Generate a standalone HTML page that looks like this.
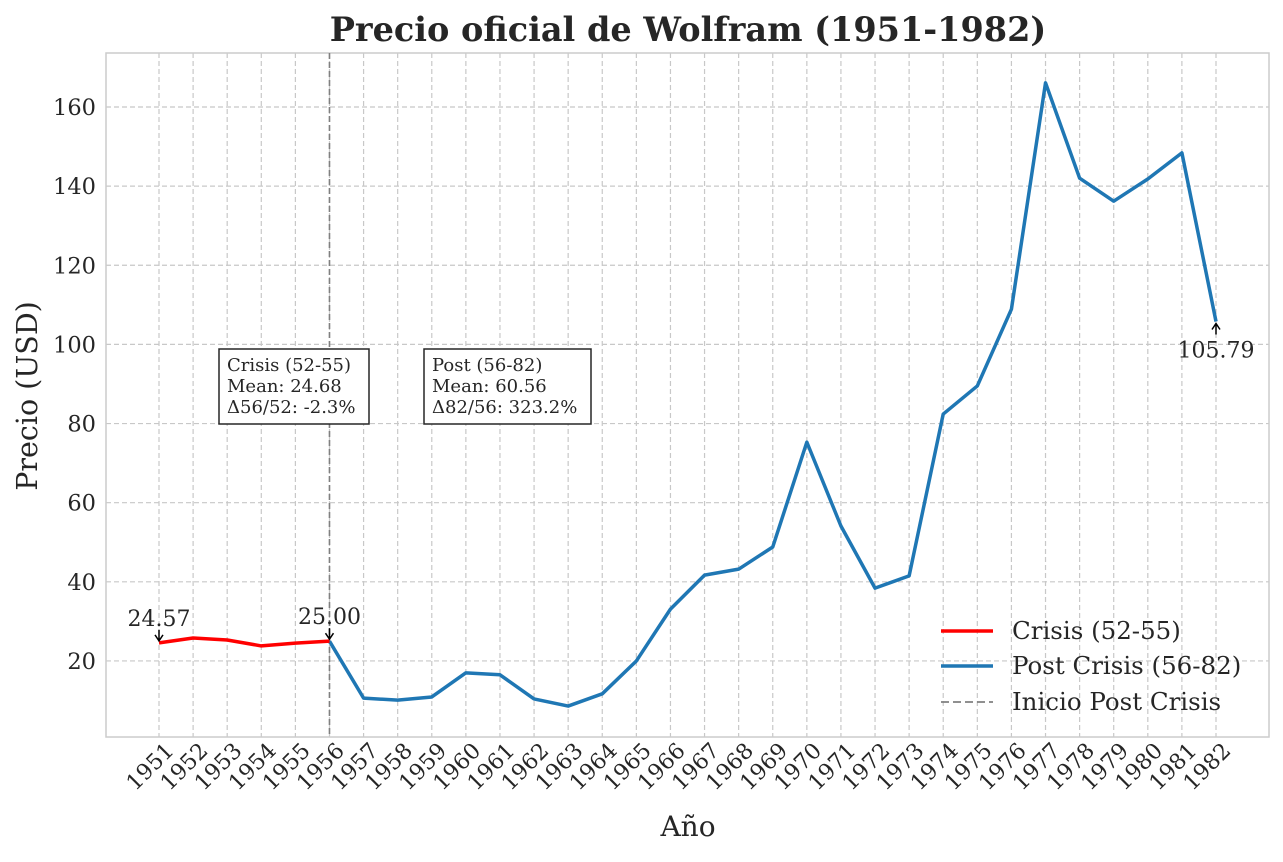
<!DOCTYPE html>
<html><head><meta charset="utf-8"><style>
body{margin:0;background:#fff;}
svg text{font-family:"DejaVu Serif","Liberation Serif",serif;fill:#262626;}
</style></head><body>
<svg id="chart" width="1283" height="857" xmlns="http://www.w3.org/2000/svg">
<text x="688" y="41" text-anchor="middle" font-size="33.5" font-weight="bold">Precio oficial de Wolfram (1951-1982)</text>
<g id="grid"></g>
<rect x="106" y="53" width="1163" height="684" fill="none" stroke="#cccccc" stroke-width="1.5"/>
<g id="marks"></g>
<g id="ticks"></g>
<text x="688" y="836" text-anchor="middle" font-size="28">Año</text>
<text transform="translate(37,396) rotate(-90)" text-anchor="middle" font-size="28.5">Precio (USD)</text>
<g>
<rect x="219" y="349" width="150" height="75" fill="#fff" stroke="#262626" stroke-width="1.5"/>
<text x="227" y="371" font-size="18">Crisis (52-55)</text>
<text x="227" y="392" font-size="18">Mean: 24.68</text>
<text x="227" y="413" font-size="18">Δ56/52: -2.3%</text>
</g>
<g>
<rect x="424" y="349" width="167" height="75" fill="#fff" stroke="#262626" stroke-width="1.5"/>
<text x="432" y="371" font-size="18">Post (56-82)</text>
<text x="432" y="392" font-size="18">Mean: 60.56</text>
<text x="432" y="413" font-size="18">Δ82/56: 323.2%</text>
</g>
<g>
<line x1="941" y1="631" x2="993" y2="631" stroke="#ff0000" stroke-width="3.5"/>
<text x="1012" y="639" font-size="24.5">Crisis (52-55)</text>
<line x1="941" y1="666" x2="993" y2="666" stroke="#1f77b4" stroke-width="3.5"/>
<text x="1012" y="674" font-size="24.5">Post Crisis (56-82)</text>
<line x1="941" y1="702" x2="993" y2="702" stroke="#808080" stroke-width="1.8" stroke-dasharray="8,4"/>
<text x="1012" y="710" font-size="24.5">Inicio Post Crisis</text>
</g>
</svg>
<script>
const years=[1951,1952,1953,1954,1955,1956,1957,1958,1959,1960,1961,1962,1963,1964,1965,1966,1967,1968,1969,1970,1971,1972,1973,1974,1975,1976,1977,1978,1979,1980,1981,1982];
const prices=[24.57,25.8,25.3,23.8,24.5,25.0,10.6,10.1,10.9,17.0,16.5,10.4,8.6,11.7,20.0,33.1,41.7,43.2,48.8,75.3,54.1,38.4,41.5,82.4,89.5,108.9,166.1,142.0,136.2,141.8,148.4,105.79];
const yTicks=[20,40,60,80,100,120,140,160];
const crisisEndYear=1956;
const NS='http://www.w3.org/2000/svg';
const X=y=>159+(y-1951)*(1216-159)/31;
const Y=v=>740.1-v*3.957;
function mk(t,a,p){const e=document.createElementNS(NS,t);for(const k in a)e.setAttribute(k,a[k]);p.appendChild(e);return e;}
const grid=document.getElementById('grid'),marks=document.getElementById('marks'),ticks=document.getElementById('ticks');
years.forEach(yr=>{
 const g=mk('line',{x1:X(yr),x2:X(yr),y1:53,y2:737,stroke:'#c8c8c8','stroke-width':1.2,'stroke-dasharray':'5,3'},grid);
 
 
 const t=mk('text',{transform:`translate(${X(yr)+16},${752}) rotate(-45)`,'text-anchor':'end','font-size':'22'},ticks);
 t.textContent=yr;
 
 
});
yTicks.forEach(v=>{
 const g=mk('line',{x1:106,x2:1269,y1:Y(v),y2:Y(v),stroke:'#c8c8c8','stroke-width':1.2,'stroke-dasharray':'5,3'},grid);
 
 
 const t=mk('text',{x:96,y:Y(v)+8,'text-anchor':'end','font-size':'22.5'},ticks);
 t.textContent=v;
 
 
});
const ci=years.indexOf(crisisEndYear);
const pts=(a,b)=>years.slice(a,b).map((yr,i)=>X(yr)+','+Y(prices[a+i])).join(' ');
const vl=mk('line',{x1:X(crisisEndYear),x2:X(crisisEndYear),y1:53,y2:737,stroke:'#808080','stroke-width':1.6,'stroke-dasharray':'6,3'},marks);


const l2=mk('polyline',{points:pts(ci,years.length),fill:'none',stroke:'#1f77b4','stroke-width':3.5,'stroke-linejoin':'round'},marks);


const l1=mk('polyline',{points:pts(0,ci+1),fill:'none',stroke:'#ff0000','stroke-width':3.5,'stroke-linejoin':'round'},marks);


function ann(i,dy,name){
 const x=X(years[i]),y=Y(prices[i]);
 const a=mk('path',{d:dy<0?`M${x},${y-2} L${x},${y-13} M${x-4},${y-8} L${x},${y-2} L${x+4},${y-8}`:`M${x},${y+2} L${x},${y+13} M${x-4},${y+8} L${x},${y+2} L${x+4},${y+8}`,fill:'none',stroke:'#000','stroke-width':1.5},marks);
 
 
 const t=mk('text',{x:x,y:dy<0?y-17:y+36,'text-anchor':'middle','font-size':'22'},marks);
 t.textContent=prices[i].toFixed(2);
 
 
}
ann(0,-1,'first-value');ann(ci,-1,'crisis-end-value');ann(years.length-1,1,'last-value');
</script>
</body></html>
